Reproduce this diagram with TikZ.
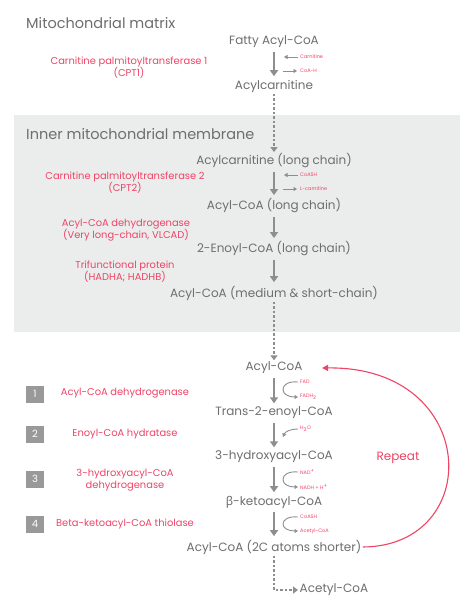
\documentclass[tikz,border=0pt]{standalone}
\usepackage{fontspec}
\setmainfont{Poppins}
\newfontfamily\grk{Noto Sans}
\usetikzlibrary{arrows.meta}
\definecolor{txtgray}{HTML}{6E6E6E}
\definecolor{arrgray}{HTML}{8E8E8E}
\definecolor{boxgray}{HTML}{EBECEC}
\definecolor{redlab}{HTML}{EE4466}
\definecolor{sqgray}{HTML}{999999}
\tikzset{
  main/.style={text=txtgray, font=\fontsize{12}{14}\selectfont, inner sep=1.5pt},
  title/.style={text=txtgray, font=\fontsize{14.5}{16}\selectfont, anchor=west, inner sep=0pt},
  enz/.style={text=redlab, font=\fontsize{9.9}{12}\selectfont, align=center, inner sep=0pt},
  tiny/.style={text=redlab, font=\fontsize{5}{6}\selectfont, anchor=west, inner sep=0pt},
  stepsq/.style={fill=sqgray, text=white, minimum width=18pt, minimum height=17pt, inner sep=0pt, font=\fontsize{10}{11}\selectfont},
  mainarrow/.style={draw=arrgray, line width=2.4pt, -{Triangle[length=6pt,width=8pt]}, shorten >=2pt, shorten <=2pt},
  dotarrow/.style={draw=arrgray, line width=2pt, dash pattern=on 2.5pt off 2pt, -{Triangle[length=5pt,width=7pt]}},
  sidearrow/.style={draw=arrgray, line width=0.9pt, -{Triangle[length=3.5pt,width=4pt]}},
  repeatarrow/.style={draw=redlab, line width=1.1pt, -{Triangle[length=6pt,width=6pt]}},
}
\begin{document}
\begin{tikzpicture}[x=1pt,y=-1pt]
\useasboundingbox (0,0) rectangle (475,608);
\fill[white] (0,0) rectangle (475,608);
\fill[boxgray] (14,115) rectangle (460,332);

% titles
\node[title] (t1) at (26,23) {Mitochondrial matrix};
\node[title] (t2) at (26,134) {Inner mitochondrial membrane};

% main chain
\node[main] (fa) at (274,42) {Fatty Acyl-CoA};
\node[main] (ac) at (274,86) {Acylcarnitine};
\node[main] (aclc) at (274,161) {Acylcarnitine (long chain)};
\node[main] (acoalc) at (274,206) {Acyl-CoA (long chain)};
\node[main] (enoyl) at (274,249) {2-Enoyl-CoA (long chain)};
\node[main] (acms) at (274,293) {Acyl-CoA (medium \& short-chain)};
\node[main] (acoa) at (274,368) {Acyl-CoA};
\node[main] (trans) at (274,413) {Trans-2-enoyl-CoA};
\node[main] (hydroxy) at (274,457) {3-hydroxyacyl-CoA};
\node[main] (keto) at (274,502) {{\grk β}-ketoacyl-CoA};
\node[main] (short) at (274,547) {Acyl-CoA (2C atoms shorter)};
\node[main, anchor=west] (acetyl) at (298,590) {Acetyl-CoA};
\coordinate (corner) at (274,590);

% enzymes upper
\node[enz] (cpt1) at (129,68) {Carnitine palmitoyltransferase 1\\(CPT1)};
\node[enz] (cpt2) at (125,183) {Carnitine palmitoyltransferase 2\\(CPT2)};
\node[enz] (vlcad) at (126,230) {Acyl-CoA dehydrogenase\\(Very long-chain, VLCAD)};
\node[enz] (tfp) at (125,272) {Trifunctional protein\\(HADHA; HADHB)};

% steps
\node[stepsq] (s1) at (35,394) {1};
\node[stepsq] (s2) at (35,434) {2};
\node[stepsq] (s3) at (35,479) {3};
\node[stepsq] (s4) at (35,524) {4};
\node[enz] (e1) at (125,393) {Acyl-CoA dehydrogenase};
\node[enz] (e2) at (125,434) {Enoyl-CoA hydratase};
\node[enz] (e3) at (125,480) {3-hydroxyacyl-CoA\\dehydrogenase};
\node[enz] (e4) at (125,524) {Beta-ketoacyl-CoA thiolase};

% small labels
\node[tiny] (carn) at (300,57) {Carnitine};
\node[tiny] (coah) at (300,71) {CoA-H};
\node[tiny] (coash1) at (300,175) {CoASH};
\node[tiny] (lcarn) at (300,189) {L-carnitine};
\node[tiny] (fad) at (300,382) {FAD};
\node[tiny] (fadh) at (300,397) {FADH\textsubscript{2}};
\node[tiny] (h2o) at (300,429) {H\textsubscript{2}O};
\node[tiny] (nad) at (300,472) {NAD\textsuperscript{+}};
\node[tiny] (nadh) at (300,487) {NADH + H\textsuperscript{+}};
\node[tiny] (coash2) at (300,517) {CoASH};
\node[tiny] (acet2) at (300,531) {Acetyl-CoA};

% main arrows
\draw[mainarrow] (fa) -- (ac);
\draw[dotarrow] (ac) -- (aclc);
\draw[mainarrow] (aclc) -- (acoalc);
\draw[mainarrow] (acoalc) -- (enoyl);
\draw[mainarrow] (enoyl) -- (acms);
\draw[dotarrow] (acms) -- (acoa);
\draw[mainarrow] (acoa) -- (trans);
\draw[mainarrow] (trans) -- (hydroxy);
\draw[mainarrow] (hydroxy) -- (keto);
\draw[mainarrow] (keto) -- (short);
\draw[dotarrow] (short) -- (corner) -- (acetyl);

% side arrows straight
\draw[sidearrow] ([xshift=-2pt]carn.west) -- ++(-14,0);
\draw[sidearrow] ([xshift=-17pt]coah.west) -- ++(14,0);
\draw[sidearrow] ([xshift=-2pt]coash1.west) -- ++(-14,0);
\draw[sidearrow] ([xshift=-17pt]lcarn.west) -- ++(14,0);

% side arrows curved
\draw[sidearrow] ([xshift=-2pt]fad.west) .. controls (288,381) and (283,385) .. (283,389.5)
   .. controls (283,394) and (288,397) .. ([xshift=-2pt]fadh.west);
\draw[sidearrow] ([xshift=-2pt]h2o.west) .. controls (290,429) and (285,432) .. (283,437);
\draw[sidearrow] ([xshift=-2pt]nad.west) .. controls (288,471) and (283,475) .. (283,479.5)
   .. controls (283,484) and (288,487) .. ([xshift=-2pt]nadh.west);
\draw[sidearrow] ([xshift=-2pt]coash2.west) .. controls (288,516) and (283,520) .. (283,524)
   .. controls (283,528) and (288,531) .. ([xshift=-2pt]acet2.west);

% repeat
\draw[repeatarrow] (short.east) .. controls (485,546) and (480,366) .. ([xshift=18pt]acoa.east);
\node[text=redlab, font=\fontsize{12}{14}\selectfont] (rep) at (398,458) {Repeat};
\end{tikzpicture}
\end{document}
